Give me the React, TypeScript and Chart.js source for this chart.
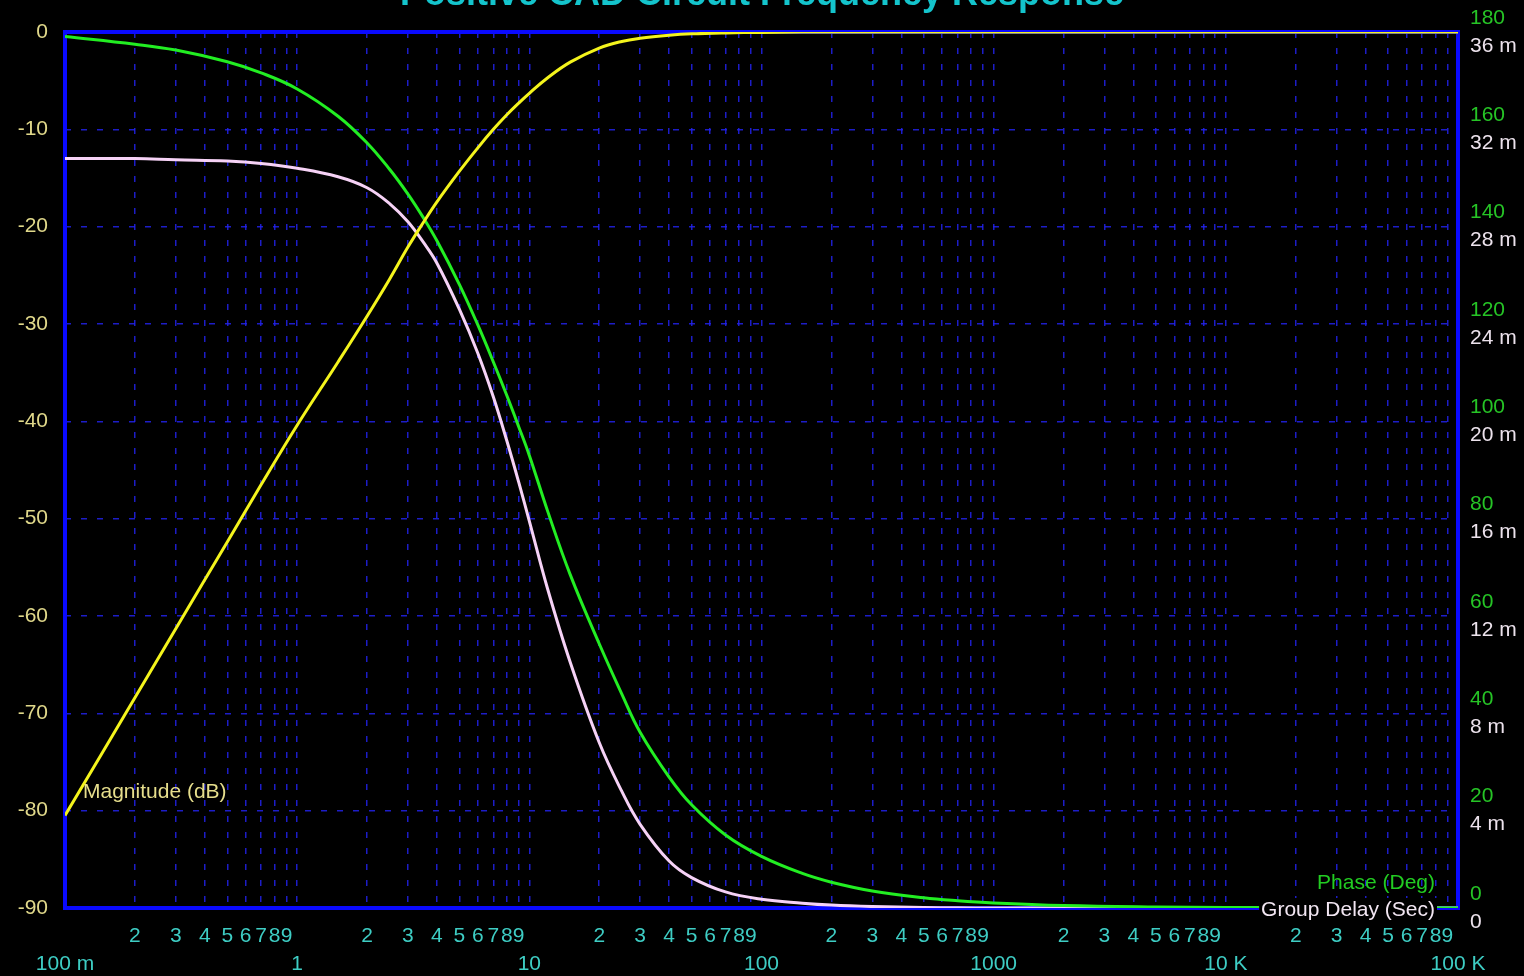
import React, { useEffect, useRef } from 'react';
import { Chart, registerables } from 'chart.js';

Chart.register(...registerables);

// ---- data ----
const chartTitle = 'Positive CAD Circuit Frequency Response';
const freqHz = [0.1, 0.2, 0.3, 0.5, 0.7, 1, 1.5, 2, 2.5, 3, 3.5, 4, 5, 6, 7, 8, 9, 10, 12, 15, 20, 25, 30, 40, 50, 70, 100, 150, 200, 300, 500, 700, 1000, 2000, 5000, 10000, 100000];
const magnitudeDb = [-80.5, -68.4, -61.3, -52.4, -46.5, -40.4, -33.9, -29.2, -25.4, -22.1, -19.55, -17.45, -14.3, -11.9, -10.0, -8.5, -7.3, -6.3, -4.7, -3.1, -1.65, -0.97, -0.65, -0.34, -0.19, -0.09, -0.04, 0, 0, 0, 0, 0, 0, 0, 0, 0, 0];
const phaseDeg = [179.1, 177.5, 176.3, 173.9, 171.6, 168.3, 162.7, 157.2, 151.8, 146.7, 141.8, 137.1, 128.1, 119.8, 112.2, 105.3, 98.9, 93.0, 81.5, 68.5, 54.3, 44.0, 36.1, 26.9, 21.2, 15.0, 10.6, 7.1, 5.3, 3.5, 2.1, 1.5, 1.05, 0.52, 0.21, 0.1, 0.01];
const groupDelayMs = [30.8, 30.8, 30.75, 30.7, 30.6, 30.4, 30.05, 29.6, 28.95, 28.2, 27.35, 26.5, 24.6, 22.8, 21.0, 19.2, 17.5, 15.9, 13.1, 10.1, 6.8, 4.8, 3.44, 1.93, 1.25, 0.66, 0.36, 0.2, 0.12, 0.06, 0.02, 0.01, 0, 0, 0, 0, 0];

const decadeValues = [0.1, 1, 10, 100, 1000, 10000, 100000];
const decadeLabels = ['100 m', '1', '10', '100', '1000', '10 K', '100 K'];
const minorDigits = [2, 3, 4, 5, 6, 7, 8, 9];
const magTicks = { min: -90, max: 0, step: 10 };
const phaseTicks = { min: 0, max: 180, step: 20 };
const delayTicks = { min: 0, max: 36, step: 4 };

const FONT = '"Liberation Sans", Arial, sans-serif';

const xTickValues: number[] = [];
decadeValues.forEach((d, i) => {
  xTickValues.push(d);
  if (i < decadeValues.length - 1) minorDigits.forEach((m) => xTickValues.push(m * d));
});

const bgPlugin = {
  id: 'bgBlack',
  beforeDraw(chart: any) {
    const { ctx, width, height } = chart;
    ctx.save();
    ctx.fillStyle = '#000000';
    ctx.fillRect(0, 0, width, height);
    ctx.restore();
  },
};

const overlapPlugin = {
  id: 'overlapRight',
  afterLayout(chart: any) {
    const p = chart.scales.yPhase;
    const d = chart.scales.yDelay;
    if (p && d) {
      d.left = p.left;
      d.right = p.right;
      d.width = p.width;
    }
  },
};

const framePlugin = {
  id: 'frame',
  beforeDatasetsDraw(chart: any) {
    const { ctx, chartArea: a } = chart;
    ctx.save();
    ctx.strokeStyle = '#0a0aff';
    ctx.lineWidth = 4;
    ctx.strokeRect(a.left, a.top, a.right - a.left, a.bottom - a.top);
    ctx.restore();
  },
};

const textPlugin = {
  id: 'texts',
  afterDatasetsDraw(chart: any) {
    const { ctx, chartArea: a, width } = chart;
    ctx.save();
    // title (cut off at top)
    ctx.font = `bold 36px ${FONT}`;
    ctx.fillStyle = '#14c4cc';
    ctx.textAlign = 'center';
    ctx.textBaseline = 'alphabetic';
    ctx.fillText(chartTitle, width / 2, 5);

    ctx.font = `21px ${FONT}`;
    ctx.textBaseline = 'middle';
    ctx.textAlign = 'left';
    ctx.fillStyle = '#e6de8c';
    ctx.fillText('Magnitude (dB)', a.left + 18, a.bottom - 116);

    ctx.textAlign = 'right';
    ctx.fillStyle = '#22cc22';
    ctx.fillText('Phase (Deg)', a.right - 23, a.bottom - 25);

    const gd = 'Group Delay (Sec)';
    const w = ctx.measureText(gd).width;
    ctx.fillStyle = '#000000';
    ctx.fillRect(a.right - 23 - w - 2, a.bottom - 10, w + 4, 22);
    ctx.fillStyle = '#f2e6f2';
    ctx.fillText(gd, a.right - 23, a.bottom + 2);
    ctx.restore();
  },
};

export default function App() {
  const ref = useRef<HTMLCanvasElement | null>(null);

  useEffect(() => {
    document.body.style.margin = '0';
    document.body.style.background = '#000';
    const canvas = ref.current;
    if (!canvas) return;

    const gridColor = 'rgba(34,34,235,0.85)';
    const lineCommon = { borderWidth: 3, pointRadius: 0, tension: 0.4 };
    const chart = new Chart(canvas, {
      type: 'line',
      data: {
        datasets: [
          {
            label: 'Magnitude (dB)',
            data: freqHz.map((f, i) => ({ x: f, y: magnitudeDb[i] })),
            borderColor: '#f4f41c',
            yAxisID: 'y',
            ...lineCommon,
          },
          {
            label: 'Phase (Deg)',
            data: freqHz.map((f, i) => ({ x: f, y: phaseDeg[i] })),
            borderColor: '#22ee22',
            yAxisID: 'yPhase',
            ...lineCommon,
          },
          {
            label: 'Group Delay (Sec)',
            data: freqHz.map((f, i) => ({ x: f, y: groupDelayMs[i] })),
            borderColor: '#f6d2f6',
            yAxisID: 'yDelay',
            ...lineCommon,
          },
        ],
      },
      options: {
        responsive: false,
        animation: false,
        devicePixelRatio: 1,
        layout: { padding: { top: 32, left: 0, right: 0, bottom: 0 } },
        plugins: {
          legend: { display: false },
          title: { display: false },
          tooltip: { enabled: false },
        },
        scales: {
          x: {
            type: 'logarithmic',
            min: 0.1,
            max: 100000,
            afterBuildTicks: (scale: any) => {
              scale.ticks = xTickValues.map((v) => ({ value: v }));
            },
            afterFit: (scale: any) => {
              scale.height = 68;
              scale.paddingLeft = 0;
              scale.paddingRight = 0;
            },
            grid: { color: gridColor, lineWidth: 1.5, drawTicks: false },
            border: { display: false, dash: [6, 10] },
            ticks: {
              autoSkip: false,
              maxRotation: 0,
              minRotation: 0,
              padding: 15,
              color: '#3ecdc4',
              font: { family: FONT, size: 21, lineHeight: 1.3 },
              callback: (value: any) => {
                const v = Number(value);
                const e = Math.floor(Math.log10(v) + 1e-9);
                const m = Math.round(v / Math.pow(10, e));
                if (m === 1) return ['', decadeLabels[e + 1]];
                return [String(m)];
              },
            },
          },
          y: {
            position: 'left',
            min: magTicks.min,
            max: magTicks.max,
            afterFit: (scale: any) => {
              scale.width = 65;
              scale.paddingTop = 0;
              scale.paddingBottom = 0;
            },
            grid: { color: gridColor, lineWidth: 1.5, drawTicks: false },
            border: { display: false, dash: [6, 10] },
            ticks: {
              stepSize: magTicks.step,
              padding: 17,
              color: '#e0d88a',
              font: { family: FONT, size: 21 },
            },
          },
          yPhase: {
            position: 'right',
            min: phaseTicks.min,
            max: phaseTicks.max,
            afterFit: (scale: any) => {
              scale.width = 66;
              scale.paddingTop = 0;
              scale.paddingBottom = 0;
            },
            grid: { display: false, drawTicks: false },
            border: { display: false },
            ticks: {
              stepSize: phaseTicks.step,
              padding: 12,
              labelOffset: -14,
              color: '#26c426',
              font: { family: FONT, size: 21 },
            },
          },
          yDelay: {
            position: 'right',
            min: delayTicks.min,
            max: delayTicks.max,
            afterFit: (scale: any) => {
              scale.width = 0;
              scale.paddingTop = 0;
              scale.paddingBottom = 0;
            },
            grid: { display: false, drawTicks: false },
            border: { display: false },
            ticks: {
              stepSize: delayTicks.step,
              padding: 12,
              labelOffset: 14,
              color: '#ece2ec',
              font: { family: FONT, size: 21 },
              callback: (value: any) => (Number(value) === 0 ? '0' : `${value} m`),
            },
          },
        },
      },
      plugins: [bgPlugin, overlapPlugin, framePlugin, textPlugin],
    } as any);

    return () => chart.destroy();
  }, []);

  return <canvas ref={ref} width={1524} height={976} style={{ display: 'block' }} />;
}
